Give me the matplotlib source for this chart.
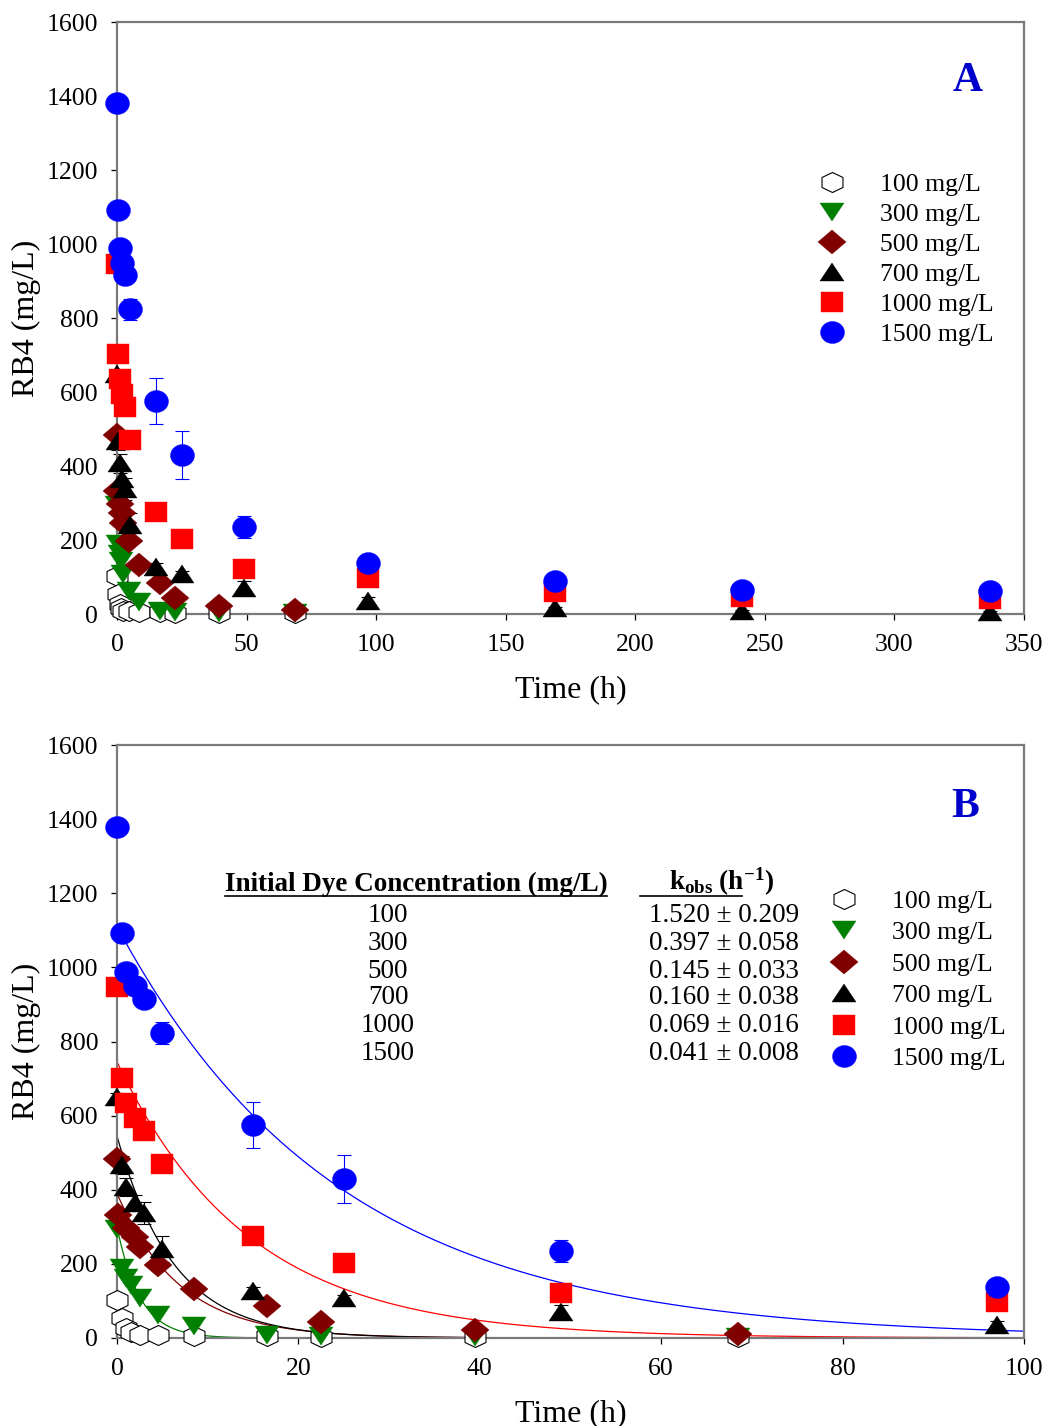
import numpy as np
import matplotlib
matplotlib.use('Agg')
import matplotlib.pyplot as plt
from matplotlib.markers import MarkerStyle
from matplotlib.transforms import Affine2D
from matplotlib.lines import Line2D

plt.rcParams['font.family'] = ['Liberation Serif', 'DejaVu Serif']
plt.rcParams['mathtext.fontset'] = 'custom'
plt.rcParams['mathtext.rm'] = 'Liberation Serif'
plt.rcParams['mathtext.bf'] = 'Liberation Serif:bold'
plt.rcParams['mathtext.it'] = 'Liberation Serif:italic'

# ---------------- data ----------------
labels = ['100 mg/L', '300 mg/L', '500 mg/L', '700 mg/L', '1000 mg/L', '1500 mg/L']
conc = [100, 300, 500, 700, 1000, 1500]

t_low = [0, 0.5, 1, 1.5, 2.5, 4.5, 8.5, 16.5, 22.5, 39.5, 68.5]
t_500 = [0, 0.1, 1, 2, 2.5, 4.5, 8.5, 16.5, 22.5, 39.5, 68.5]
t_high = [0, 0.5, 1, 2, 3, 5, 15, 25, 49, 97, 169, 241, 337]

c100 = [103, 54, 27, 16, 8, 7, 6, 5, 4, 3, 3]
c300 = [294, 188, 162, 143, 108, 62, 32, 9, 5, 2, 2]
c500 = [483, 332, 297, 273, 246, 197, 132, 85, 44, 22, 12]
c700 = [650, 467, 407, 364, 337, 240, 128, 108, 70, 35, 15, 8, 5]
c700_err = [10, 25, 25, 22, 30, 34, 10, 8, 18, 10, 5, 3, 3]
c1000 = [947, 702, 634, 594, 559, 470, 275, 202, 121, 96, 59, 45, 40]
c1500 = [1380, 1093, 988, 950, 915, 823, 575, 429, 235, 137, 90, 65, 62]
c1500_err = [15, 10, 8, 8, 8, 29, 62, 65, 30, 10, 5, 5, 5]

k_obs = [1.520, 0.397, 0.145, 0.160, 0.069, 0.041]
k_err = [0.209, 0.058, 0.033, 0.038, 0.016, 0.008]
fit_c0 = [100, 300, 390, 545, 745, 1110]

x_ticks_a = [0, 50, 100, 150, 200, 250, 300, 350]
x_ticks_b = [0, 20, 40, 60, 80, 100]
y_ticks = [0, 200, 400, 600, 800, 1000, 1200, 1400, 1600]

# ---------------- styles ----------------
W, H = 1049, 1426
fig = plt.figure(figsize=(W / 100, H / 100), dpi=100)


def mk(base, sx):
    return MarkerStyle(base, transform=Affine2D().scale(sx, 1.0))


colors = ['black', '#008000', '#800000', 'black', '#ff0000', '#0000ff']
series = [
    (t_low, c100, None, dict(marker=mk('h', 1.21), ms=14.4, mfc='white', mec='black', mew=0.8)),
    (t_low, c300, None, dict(marker=mk('v', 1.3), ms=13.5, mfc='#008000', mec='#008000', mew=0.3)),
    (t_500, c500, None, dict(marker=mk('D', 1.17), ms=12.2, mfc='#800000', mec='#800000', mew=0.3)),
    (t_high, c700, c700_err, dict(marker=mk('^', 1.3), ms=13.5, mfc='black', mec='black', mew=0.3)),
    (t_high, c1000, None, dict(marker=mk('s', 1.16), ms=13.7, mfc='#ff0000', mec='#ff0000', mew=0.3)),
    (t_high, c1500, c1500_err, dict(marker=mk('o', 1.09), ms=15.8, mfc='#0000ff', mec='#0000ff', mew=0.3)),
]

spine_col = '#7a7a7a'


def px_axes(left, top, right, bottom):
    return [left / W, 1 - bottom / H, (right - left) / W, (bottom - top) / H]


def style_axes(ax, xmax, xticks):
    ax.set_xlim(0, xmax)
    ax.set_ylim(0, 1600)
    ax.set_xticks(xticks)
    ax.set_yticks(y_ticks)
    for s in ax.spines.values():
        s.set_color(spine_col)
        s.set_linewidth(1.6)
    ax.tick_params(direction='out', length=4.5, width=0.9, color='black',
                   labelsize=18.5, pad=9)
    ax.tick_params(axis='x', pad=10)
    ax.set_xlabel('Time (h)', fontsize=23, labelpad=14)
    ax.set_ylabel('RB4 (mg/L)', fontsize=23)
    ax.yaxis.set_label_coords(-0.084, 0.5)


def draw_points(ax, tmax):
    handles = []
    for i, (t, c, err, st) in enumerate(series):
        t = np.asarray(t, float)
        c = np.asarray(c, float)
        m = t <= tmax
        if err is not None:
            e = np.asarray(err, float)
            ax.errorbar(t[m], c[m], yerr=e[m], fmt='none', ecolor=colors[i],
                        elinewidth=0.8, capsize=4.7, capthick=0.8,
                        zorder=2 + i * 0.1, clip_on=False)
        ln, = ax.plot(t[m], c[m], linestyle='none', label=labels[i],
                      zorder=3 + i, clip_on=False, **st)
        handles.append(ln)
    return handles


# ---------------- panel A ----------------
axA = fig.add_axes(px_axes(117, 22, 1024, 614))
style_axes(axA, 350, x_ticks_a)
hA = draw_points(axA, 1000)
axA.legend(handles=hA, loc='upper left', bbox_to_anchor=(0.769, 0.745),
           frameon=False, fontsize=18.5, handlelength=1.35, handletextpad=1.2,
           labelspacing=0.27, borderaxespad=0, borderpad=0, numpoints=1)
axA.text(0.938, 0.900, 'A', transform=axA.transAxes, color='#0000cc',
         fontsize=30, fontweight='bold', ha='center', va='center')

# ---------------- panel B ----------------
axB = fig.add_axes(px_axes(117, 745, 1024, 1338))
style_axes(axB, 100, x_ticks_b)
hB = draw_points(axB, 100)
tt = np.linspace(0, 100, 600)
for i in range(6):
    ls = ':' if i == 0 else '-'
    axB.plot(tt, fit_c0[i] * np.exp(-k_obs[i] * tt), color=colors[i],
             linestyle=ls, linewidth=0.9, zorder=1.5)
axB.legend(handles=hB, loc='upper left', bbox_to_anchor=(0.782, 0.756),
           frameon=False, fontsize=18.5, handlelength=1.35, handletextpad=1.2,
           labelspacing=0.33, borderaxespad=0, borderpad=0, numpoints=1)
axB.text(0.935, 0.895, 'B', transform=axB.transAxes, color='#0000cc',
         fontsize=30, fontweight='bold', ha='center', va='center')


# ---------------- table ----------------
def fx(x):
    return x / W


def fy(y):
    return 1 - y / H


hdr1 = fig.text(fx(416), fy(884), 'Initial Dye Concentration (mg/L)', fontsize=19.5,
                fontweight='bold', ha='center', va='center')
hdr2 = fig.text(fx(722), fy(882), r'$\mathbf{k_{obs}\ (h^{-1})}$', fontsize=19.5,
                ha='center', va='center')
row_y = [915, 943, 971, 998, 1026, 1053]
for ci, k, e, y in zip(conc, k_obs, k_err, row_y):
    fig.text(fx(388), fy(y), str(ci), fontsize=19.5, ha='center', va='center')
    fig.text(fx(724), fy(y), f'{k:.3f} \u00b1 {e:.3f}', fontsize=19.5,
             ha='center', va='center')

fig.canvas.draw()
r = fig.canvas.get_renderer()
bb = hdr1.get_window_extent(r)
fig.add_artist(Line2D([bb.x0 / W, bb.x1 / W], [bb.y0 / H + 0.0005] * 2,
                      color='black', linewidth=1.2, transform=fig.transFigure))
fig.add_artist(Line2D([fx(640), fx(742)], [bb.y0 / H + 0.0005] * 2,
                      color='black', linewidth=1.2, transform=fig.transFigure))

fig.savefig('out.png', dpi=100)
